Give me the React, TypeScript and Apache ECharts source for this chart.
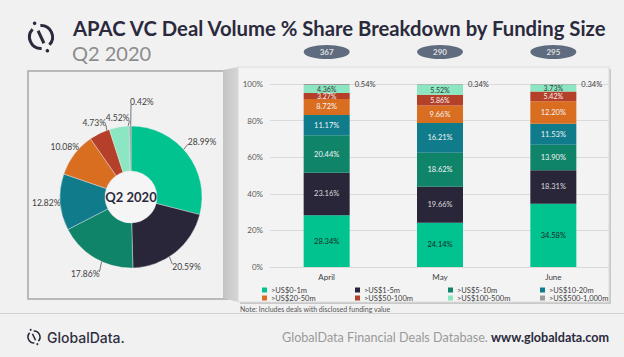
import React, { useEffect, useRef } from "react";
import * as echarts from "echarts";

const months = ["April", "May", "June"];
const sizeBands = [
  ">US$0-1m",
  ">US$1-5m",
  ">US$5-10m",
  ">US$10-20m",
  ">US$20-50m",
  ">US$50-100m",
  ">US$100-500m",
  ">US$500-1,000m",
];
const aprilShares = [28.34, 23.16, 20.44, 11.17, 8.72, 3.27, 4.36, 0.54];
const mayShares = [24.14, 19.66, 18.62, 16.21, 9.66, 5.86, 5.52, 0.34];
const juneShares = [34.58, 18.31, 13.9, 11.53, 12.2, 5.42, 3.73, 0.34];
const q2Shares = [28.99, 20.59, 17.86, 12.82, 10.08, 4.73, 4.52, 0.42];
const dealCounts = [367, 290, 295];
const yTicks = [0, 20, 40, 60, 80, 100];

const bandColors = ["#00c38f", "#29263a", "#0f8469", "#0f7b8b", "#d96e21", "#b4402a", "#8ce6c1", "#9a9a9a"];
const labelColors = ["#1e2a24", "#dddddd", "#f4f4f4", "#f4f4f4", "#f4f4f4", "#f4f4f4", "#2e3b35", "#404040"];

const FONT = "Lato, 'Open Sans', sans-serif";
const INK = "#2b2a3d";

function logo(cx: number, cy: number, r: number, lw: number) {
  const d2r = Math.PI / 180;
  const gapTop = -115;
  const gapBot = 65;
  const half = 22;
  const pt = (ang: number, rad: number) => [cx + rad * Math.cos(ang * d2r), cy + rad * Math.sin(ang * d2r)];
  const p1 = pt(gapTop, r * 0.6);
  const p2 = pt(gapBot, r * 0.6);
  const d1 = pt(gapTop, r + lw * 1.2);
  const d2 = pt(gapBot, r + lw * 1.2);
  return [
    { type: "arc", shape: { cx, cy, r, startAngle: (gapTop + half) * d2r, endAngle: (gapBot - half) * d2r, clockwise: true }, style: { stroke: INK, lineWidth: lw, fill: "none" } },
    { type: "arc", shape: { cx, cy, r, startAngle: (gapBot + half) * d2r, endAngle: (gapTop + 360 - half) * d2r, clockwise: true }, style: { stroke: INK, lineWidth: lw, fill: "none" } },
    { type: "line", shape: { x1: p1[0], y1: p1[1], x2: p2[0], y2: p2[1] }, style: { stroke: INK, lineWidth: lw } },
    { type: "circle", shape: { cx: d1[0], cy: d1[1], r: lw * 0.6 }, style: { fill: INK } },
    { type: "circle", shape: { cx: d2[0], cy: d2[1], r: lw * 0.6 }, style: { fill: INK } },
  ];
}

export default function App() {
  const ref = useRef<HTMLDivElement>(null);
  useEffect(() => {
    if (!ref.current) return;
    const chart = echarts.init(ref.current, undefined, { renderer: "svg" });
    const monthData = [aprilShares, mayShares, juneShares];
    const pieCenter = [131, 197];
    const outerR = 71;
    // distance of each pie label from the pie centre (layout styling)
    const labelRadius = [90, 89, 90, 85, 83, 83, 80, 88];
    const total = q2Shares.reduce((a, b) => a + b, 0);
    const mids: number[] = [];
    let acc = 0;
    q2Shares.forEach((v) => {
      mids.push(((acc + v / 2) / total) * Math.PI * 2);
      acc += v;
    });

    const barSeries = sizeBands.map((band, bi) => ({
      type: "bar",
      name: band,
      stack: "total",
      xAxisIndex: 0,
      yAxisIndex: 0,
      barWidth: 46,
      itemStyle: { color: bandColors[bi] },
      label: {
        show: true,
        position: bi === 7 ? "right" : "inside",
        distance: 5,
        color: labelColors[bi],
        fontSize: bi === 5 || bi === 6 ? 7 : 7.5,
        lineHeight: 7,
        fontFamily: FONT,
        formatter: (p: any) => Number(p.value).toFixed(2) + "%",
      },
      data: monthData.map((m) => m[bi]),
    }));

    const legendCols = [257, 350, 443, 535];
    const legends = legendCols.map((x, ci) => ({
      orient: "vertical",
      left: x,
      top: 281,
      itemWidth: 5,
      itemHeight: 5,
      itemGap: 0,
      icon: "rect",
      selectedMode: false,
      textStyle: { fontSize: 7.5, color: "#404040", fontFamily: FONT, lineHeight: 7.5, padding: [0, 0, 0, -1] },
      data: [sizeBands[ci], sizeBands[ci + 4]],
    }));

    const pieLabelLayout = (params: any) => {
      const i = params.dataIndex;
      const th = mids[i];
      const dx = Math.sin(th);
      const dy = -Math.cos(th);
      const [cx, cy] = pieCenter;
      let lx = cx + labelRadius[i] * dx;
      let ly = cy + labelRadius[i] * dy;
      if (i === q2Shares.length - 1) {
        lx += 12;
        ly -= 7;
      }
      const w = params.labelRect.width;
      const h = params.labelRect.height;
      const clamp = (v: number, a: number, b: number) => Math.max(a, Math.min(b, v));
      const ax = clamp(cx, lx - w / 2, lx + w / 2);
      const ay = clamp(cy, ly - h / 2 + 2, ly + h / 2 - 2);
      const inner = [cx + 48 * dx, cy + 48 * dy];
      const dist = Math.hypot(ax - cx, ay - cy);
      const pts = dist > outerR + 3 ? [inner, [ax, ay], [ax, ay]] : [[ax, ay], [ax, ay], [ax, ay]];
      return { x: lx, y: ly, align: "center", verticalAlign: "middle", labelLinePoints: pts };
    };

    chart.setOption({
      animation: false,
      backgroundColor: "#f1f1f1",
      textStyle: { fontFamily: FONT },
      graphic: [
        { type: "rect", shape: { x: 28, y: 71, width: 200, height: 228 }, style: { fill: "none", stroke: "#a8a8a8", lineWidth: 1.5 } },
        { type: "rect", shape: { x: 240, y: 69, width: 371, height: 235 }, style: { fill: "#c9c9c9" } },
        { type: "rect", shape: { x: 238, y: 67, width: 371, height: 235 }, style: { fill: "#f3f3f3", stroke: "#dcdcdc", lineWidth: 1 } },
        {
          type: "polygon",
          shape: { points: [[223, 70], [238, 67], [238, 302], [223, 298]] },
          style: {
            fill: new echarts.graphic.LinearGradient(0, 0, 1, 0, [
              { offset: 0, color: "#c4c4c4" },
              { offset: 1, color: "#d6d6d6" },
            ]),
          },
        },
        { type: "line", shape: { x1: 0, y1: 313.5, x2: 624, y2: 313.5 }, style: { stroke: "#d2d2d2", lineWidth: 1 } },
        { type: "group", children: logo(41, 37, 11.5, 3) },
        { type: "text", x: 73, y: 28, style: { text: "APAC VC Deal Volume % Share Breakdown by Funding Size", font: `bold 20.3px ${FONT}`, fill: INK, textVerticalAlign: "middle" } },
        { type: "text", x: 72, y: 53, style: { text: "Q2 2020", font: `20px ${FONT}`, fill: "#8c8c8c", textVerticalAlign: "middle" } },
        { type: "text", x: 240, y: 309, style: { text: "Note: Includes deals with disclosed funding value", font: `7px ${FONT}`, fill: "#555555", textVerticalAlign: "middle" } },
        { type: "circle", shape: { cx: pieCenter[0], cy: pieCenter[1], r: 26 }, style: { fill: "#f5f5f5" } },
        { type: "text", x: pieCenter[0], y: pieCenter[1], z: 10, style: { text: "Q2 2020", font: `bold 13px ${FONT}`, fill: INK, textAlign: "center", textVerticalAlign: "middle" } },
        { type: "group", children: logo(34, 337, 6, 1.6) },
        { type: "text", x: 47, y: 337, style: { text: "GlobalData.", font: `500 14px Inter, ${FONT}`, fill: "#2f2e41", textVerticalAlign: "middle" } },
        {
          type: "text",
          x: 609,
          y: 337,
          style: {
            text: "{a|GlobalData Financial Deals Database. }{b|www.globaldata.com}",
            textAlign: "right",
            textVerticalAlign: "middle",
            rich: {
              a: { fontSize: 12.6, fontFamily: FONT, fill: "#9a9a9a", color: "#9a9a9a" },
              b: { fontSize: 12.6, fontFamily: FONT, fontWeight: "bold", fill: "#2b2a3d", color: "#2b2a3d" },
            },
          },
        },
      ],
      legend: legends,
      grid: [
        { left: 270, width: 340, top: 84, height: 183 },
        { left: 270, width: 340, top: 45, height: 14 },
      ],
      xAxis: [
        {
          type: "category",
          gridIndex: 0,
          data: months,
          axisTick: { show: false },
          axisLine: { lineStyle: { color: "#d9d9d9" } },
          axisLabel: { fontSize: 8, color: "#404040", margin: 6, fontFamily: FONT },
        },
        { type: "category", gridIndex: 1, data: months, show: false },
      ],
      yAxis: [
        {
          type: "value",
          gridIndex: 0,
          min: yTicks[0],
          max: yTicks[yTicks.length - 1],
          interval: 20,
          axisLine: { show: false },
          axisTick: { show: false },
          splitLine: { lineStyle: { color: "#dadada" } },
          axisLabel: { fontSize: 8, color: "#595959", margin: 7, formatter: "{value}%", fontFamily: FONT },
        },
        { type: "value", gridIndex: 1, min: 0, max: 1, show: false },
      ],
      series: [
        {
          type: "pie",
          name: "Q2 2020",
          center: pieCenter,
          radius: [26, outerR],
          startAngle: 90,
          clockwise: true,
          avoidLabelOverlap: false,
          itemStyle: { borderColor: "#eeeeee", borderWidth: 0.4 },
          label: { show: true, position: "outside", fontSize: 8.5, color: "#404040", fontFamily: FONT, formatter: (p: any) => Number(p.value).toFixed(2) + "%" },
          labelLine: { show: true, showAbove: true, length: 8, length2: 6, smooth: false, lineStyle: { color: "#404040", width: 0.7 } },
          labelLayout: pieLabelLayout,
          data: sizeBands.map((b, i) => ({ name: b, value: q2Shares[i], itemStyle: { color: bandColors[i] } })),
        },
        ...barSeries,
        {
          type: "scatter",
          xAxisIndex: 1,
          yAxisIndex: 1,
          symbol: "path://M0 5a10 5 0 1 0 20 0a10 5 0 1 0 -20 0z",
          symbolSize: [46, 14],
          itemStyle: { color: "#3b4a62" },
          label: {
            show: true,
            position: "inside",
            color: "#ffffff",
            fontSize: 8,
            fontWeight: "bold",
            fontFamily: FONT,
            formatter: (p: any) => String(dealCounts[p.dataIndex]),
          },
          data: dealCounts.map((c, i) => [months[i], 0.5]),
        },
      ],
    });
    return () => chart.dispose();
  }, []);
  return <div ref={ref} style={{ position: "fixed", left: 0, top: 0, width: 624, height: 357 }} />;
}
